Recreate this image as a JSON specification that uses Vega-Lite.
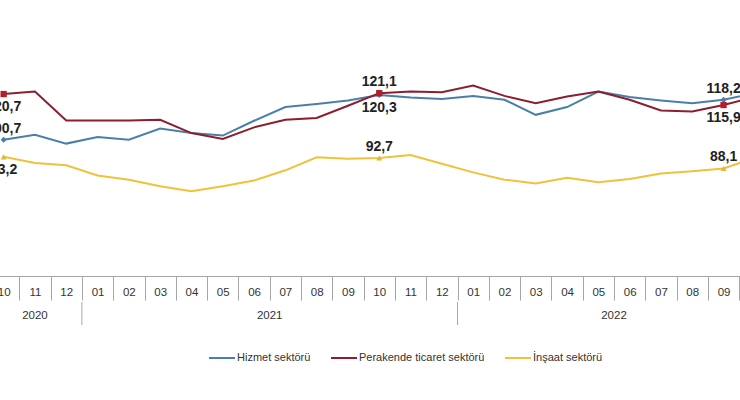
{
  "$schema": "https://vega.github.io/schema/vega-lite/v6.json",
  "padding": {"left": -14, "top": 50, "right": -32, "bottom": 0},
  "background": "white",
  "spacing": 0,
  "config": {
    "view": {"stroke": null},
    "font": "Liberation Sans",
    "locale": {"number": {"decimal": ",", "thousands": ".", "grouping": [3], "currency": ["", " TL"]}}
  },
  "datasets": {
    "seriler": [
      {"donem": "2020-10", "seri": "Hizmet sektörü", "deger": 100.7},
      {"donem": "2020-11", "seri": "Hizmet sektörü", "deger": 102.9},
      {"donem": "2020-12", "seri": "Hizmet sektörü", "deger": 99.0},
      {"donem": "2021-01", "seri": "Hizmet sektörü", "deger": 101.9},
      {"donem": "2021-02", "seri": "Hizmet sektörü", "deger": 100.7},
      {"donem": "2021-03", "seri": "Hizmet sektörü", "deger": 105.6},
      {"donem": "2021-04", "seri": "Hizmet sektörü", "deger": 103.6},
      {"donem": "2021-05", "seri": "Hizmet sektörü", "deger": 102.5},
      {"donem": "2021-06", "seri": "Hizmet sektörü", "deger": 109.0},
      {"donem": "2021-07", "seri": "Hizmet sektörü", "deger": 115.0},
      {"donem": "2021-08", "seri": "Hizmet sektörü", "deger": 116.3},
      {"donem": "2021-09", "seri": "Hizmet sektörü", "deger": 117.9},
      {"donem": "2021-10", "seri": "Hizmet sektörü", "deger": 120.3},
      {"donem": "2021-11", "seri": "Hizmet sektörü", "deger": 119.2},
      {"donem": "2021-12", "seri": "Hizmet sektörü", "deger": 118.5},
      {"donem": "2022-01", "seri": "Hizmet sektörü", "deger": 119.9},
      {"donem": "2022-02", "seri": "Hizmet sektörü", "deger": 118.2},
      {"donem": "2022-03", "seri": "Hizmet sektörü", "deger": 111.6},
      {"donem": "2022-04", "seri": "Hizmet sektörü", "deger": 115.0},
      {"donem": "2022-05", "seri": "Hizmet sektörü", "deger": 121.8},
      {"donem": "2022-06", "seri": "Hizmet sektörü", "deger": 119.4},
      {"donem": "2022-07", "seri": "Hizmet sektörü", "deger": 117.9},
      {"donem": "2022-08", "seri": "Hizmet sektörü", "deger": 116.7},
      {"donem": "2022-09", "seri": "Hizmet sektörü", "deger": 118.2},
      {"donem": "2022-10", "seri": "Hizmet sektörü", "deger": 121.2},
      {"donem": "2020-10", "seri": "Perakende ticaret sektörü", "deger": 120.7},
      {"donem": "2020-11", "seri": "Perakende ticaret sektörü", "deger": 121.8},
      {"donem": "2020-12", "seri": "Perakende ticaret sektörü", "deger": 109.1},
      {"donem": "2021-01", "seri": "Perakende ticaret sektörü", "deger": 109.1},
      {"donem": "2021-02", "seri": "Perakende ticaret sektörü", "deger": 109.1},
      {"donem": "2021-03", "seri": "Perakende ticaret sektörü", "deger": 109.4},
      {"donem": "2021-04", "seri": "Perakende ticaret sektörü", "deger": 103.6},
      {"donem": "2021-05", "seri": "Perakende ticaret sektörü", "deger": 101.0},
      {"donem": "2021-06", "seri": "Perakende ticaret sektörü", "deger": 106.1},
      {"donem": "2021-07", "seri": "Perakende ticaret sektörü", "deger": 109.4},
      {"donem": "2021-08", "seri": "Perakende ticaret sektörü", "deger": 110.2},
      {"donem": "2021-09", "seri": "Perakende ticaret sektörü", "deger": 115.6},
      {"donem": "2021-10", "seri": "Perakende ticaret sektörü", "deger": 121.1},
      {"donem": "2021-11", "seri": "Perakende ticaret sektörü", "deger": 121.8},
      {"donem": "2021-12", "seri": "Perakende ticaret sektörü", "deger": 121.5},
      {"donem": "2022-01", "seri": "Perakende ticaret sektörü", "deger": 124.4},
      {"donem": "2022-02", "seri": "Perakende ticaret sektörü", "deger": 119.9},
      {"donem": "2022-03", "seri": "Perakende ticaret sektörü", "deger": 116.7},
      {"donem": "2022-04", "seri": "Perakende ticaret sektörü", "deger": 119.6},
      {"donem": "2022-05", "seri": "Perakende ticaret sektörü", "deger": 121.8},
      {"donem": "2022-06", "seri": "Perakende ticaret sektörü", "deger": 118.2},
      {"donem": "2022-07", "seri": "Perakende ticaret sektörü", "deger": 113.5},
      {"donem": "2022-08", "seri": "Perakende ticaret sektörü", "deger": 113.1},
      {"donem": "2022-09", "seri": "Perakende ticaret sektörü", "deger": 115.9},
      {"donem": "2022-10", "seri": "Perakende ticaret sektörü", "deger": 119.5},
      {"donem": "2020-10", "seri": "İnşaat sektörü", "deger": 93.2},
      {"donem": "2020-11", "seri": "İnşaat sektörü", "deger": 90.5},
      {"donem": "2020-12", "seri": "İnşaat sektörü", "deger": 89.5},
      {"donem": "2021-01", "seri": "İnşaat sektörü", "deger": 85.0},
      {"donem": "2021-02", "seri": "İnşaat sektörü", "deger": 83.2},
      {"donem": "2021-03", "seri": "İnşaat sektörü", "deger": 80.3},
      {"donem": "2021-04", "seri": "İnşaat sektörü", "deger": 78.1},
      {"donem": "2021-05", "seri": "İnşaat sektörü", "deger": 80.3},
      {"donem": "2021-06", "seri": "İnşaat sektörü", "deger": 82.8},
      {"donem": "2021-07", "seri": "İnşaat sektörü", "deger": 87.3},
      {"donem": "2021-08", "seri": "İnşaat sektörü", "deger": 93.0},
      {"donem": "2021-09", "seri": "İnşaat sektörü", "deger": 92.4},
      {"donem": "2021-10", "seri": "İnşaat sektörü", "deger": 92.7},
      {"donem": "2021-11", "seri": "İnşaat sektörü", "deger": 94.0},
      {"donem": "2021-12", "seri": "İnşaat sektörü", "deger": 90.2},
      {"donem": "2022-01", "seri": "İnşaat sektörü", "deger": 86.4},
      {"donem": "2022-02", "seri": "İnşaat sektörü", "deger": 83.2},
      {"donem": "2022-03", "seri": "İnşaat sektörü", "deger": 81.5},
      {"donem": "2022-04", "seri": "İnşaat sektörü", "deger": 84.0},
      {"donem": "2022-05", "seri": "İnşaat sektörü", "deger": 82.1},
      {"donem": "2022-06", "seri": "İnşaat sektörü", "deger": 83.5},
      {"donem": "2022-07", "seri": "İnşaat sektörü", "deger": 85.9},
      {"donem": "2022-08", "seri": "İnşaat sektörü", "deger": 86.9},
      {"donem": "2022-09", "seri": "İnşaat sektörü", "deger": 88.1},
      {"donem": "2022-10", "seri": "İnşaat sektörü", "deger": 92.8}
    ],
    "yillar": [
      {"yil": "2020", "sinir": 0, "orta": 1.5},
      {"yil": "2021", "sinir": 3, "orta": 9},
      {"yil": "2022", "sinir": 15, "orta": 20}
    ]
  },
  "vconcat": [
    {
      "width": 782.5,
      "height": 226,
      "data": {"name": "seriler"},
      "encoding": {
        "x": {
          "field": "donem", "type": "ordinal", "bandPosition": 0.5,
          "scale": {"type": "band", "paddingInner": 0, "paddingOuter": 0},
          "axis": {
            "title": null, "orient": "bottom", "tickBand": "extent", "tickSize": 24,
            "tickColor": "#a6a6a6", "domainColor": "#a6a6a6", "tickWidth": 1, "domainWidth": 1,
            "labelExpr": "substring(datum.label, 5)", "labelAngle": 0, "labelBaseline": "middle",
            "labelPadding": -8, "labelFontSize": 11.5, "labelColor": "#333333",
            "labelFont": "Liberation Sans", "grid": false, "labelFlush": false, "labelOverlap": false
          }
        },
        "y": {
          "field": "deger", "type": "quantitative",
          "scale": {"domain": [41, 140], "nice": false, "zero": false},
          "axis": null
        },
        "color": {
          "field": "seri", "type": "nominal",
          "scale": {
            "domain": ["Hizmet sektörü", "Perakende ticaret sektörü", "İnşaat sektörü"],
            "range": ["#4a7fab", "#8b1e2f", "#f0c23b"]
          },
          "legend": {
            "title": null, "orient": "none", "legendX": 220, "legendY": 294,
            "direction": "horizontal", "symbolType": "stroke", "symbolSize": 676,
            "symbolStrokeWidth": 2, "labelFontSize": 11, "labelColor": "#333333",
            "labelFont": "Liberation Sans", "columnPadding": 16, "labelOffset": 1,
            "padding": 0, "labelLimit": 0
          }
        }
      },
      "layer": [
        {"mark": {"type": "line", "strokeWidth": 2}},
        {
          "transform": [
            {"filter": "indexof(['2020-10','2021-10','2022-09'], datum.donem) >= 0"},
            {"filter": "datum.seri == 'Hizmet sektörü'"}
          ],
          "mark": {"type": "point", "filled": true, "opacity": 1, "size": 36, "shape": "diamond"}
        },
        {
          "transform": [
            {"filter": "indexof(['2020-10','2021-10','2022-09'], datum.donem) >= 0"},
            {"filter": "datum.seri == 'Perakende ticaret sektörü'"}
          ],
          "mark": {"type": "point", "filled": true, "opacity": 1, "size": 40, "shape": "square"},
          "encoding": {"color": {"value": "#b0202c"}}
        },
        {
          "transform": [
            {"filter": "indexof(['2020-10','2021-10','2022-09'], datum.donem) >= 0"},
            {"filter": "datum.seri == 'İnşaat sektörü'"}
          ],
          "mark": {"type": "point", "filled": true, "opacity": 1, "size": 36, "shape": "triangle-up"},
          "encoding": {"color": {"value": "#e6b830"}}
        },
        {
          "transform": [{"filter": "(datum.donem=='2020-10' && datum.seri=='Hizmet sektörü') || (datum.donem=='2021-10' && datum.seri!='Hizmet sektörü') || (datum.donem=='2022-09' && datum.seri!='Perakende ticaret sektörü')"}],
          "mark": {"type": "text", "dy": -11, "baseline": "middle", "fontSize": 14, "fontWeight": "bold", "font": "Liberation Sans"},
          "encoding": {
            "text": {"field": "deger", "type": "quantitative", "format": ".1f"},
            "color": {"value": "#222222"}
          }
        },
        {
          "transform": [{"filter": "(datum.donem=='2020-10' && datum.seri!='Hizmet sektörü') || (datum.donem=='2021-10' && datum.seri=='Hizmet sektörü') || (datum.donem=='2022-09' && datum.seri=='Perakende ticaret sektörü')"}],
          "mark": {"type": "text", "dy": 13, "baseline": "middle", "fontSize": 14, "fontWeight": "bold", "font": "Liberation Sans"},
          "encoding": {
            "text": {"field": "deger", "type": "quantitative", "format": ".1f"},
            "color": {"value": "#222222"}
          }
        }
      ]
    },
    {
      "width": 782.5,
      "height": 23,
      "data": {"name": "yillar"},
      "layer": [
        {
          "mark": {"type": "rule", "color": "#a6a6a6", "strokeWidth": 1},
          "encoding": {
            "x": {"field": "sinir", "type": "quantitative", "scale": {"domain": [0, 25], "nice": false, "zero": false}, "axis": null}
          }
        },
        {
          "mark": {"type": "text", "fontSize": 11.5, "color": "#333333", "font": "Liberation Sans", "dy": 2},
          "encoding": {
            "x": {"field": "orta", "type": "quantitative", "axis": null},
            "text": {"field": "yil"}
          }
        }
      ]
    }
  ]
}
